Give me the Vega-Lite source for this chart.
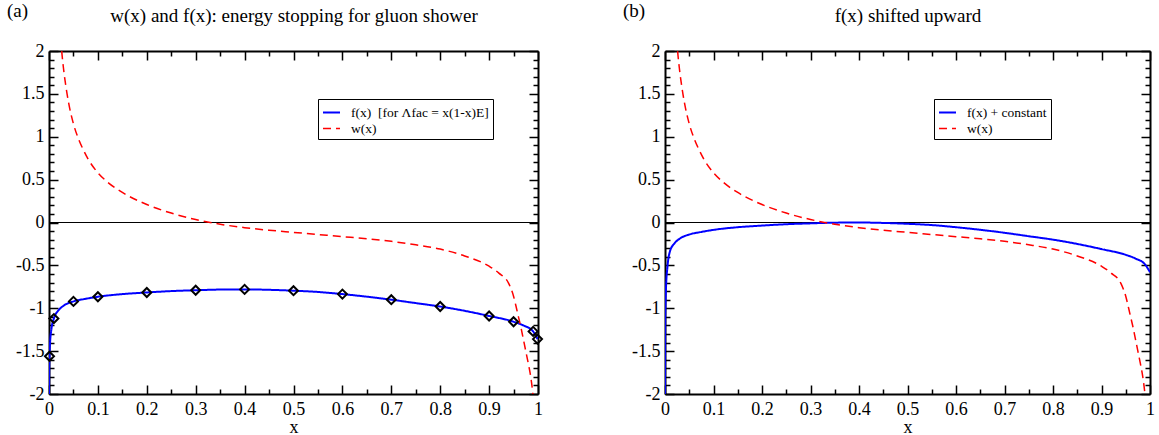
{
  "$schema": "https://vega.github.io/schema/vega-lite/v6.json",
  "autosize": {"type": "pad"},
  "padding": {"left": 7, "top": 2, "right": 8, "bottom": 0},
  "bounds": "flush",
  "spacing": 127,
  "background": "white",
  "datasets": {
    "a_lines": [
      {"s": "f", "x": 0.0001, "y": -2.0},
      {"s": "f", "x": 0.0004, "y": -1.75},
      {"s": "f", "x": 0.001, "y": -1.56},
      {"s": "f", "x": 0.002, "y": -1.42},
      {"s": "f", "x": 0.005, "y": -1.24},
      {"s": "f", "x": 0.01, "y": -1.12},
      {"s": "f", "x": 0.02, "y": -1.02},
      {"s": "f", "x": 0.03, "y": -0.97},
      {"s": "f", "x": 0.05, "y": -0.92},
      {"s": "f", "x": 0.075, "y": -0.89},
      {"s": "f", "x": 0.1, "y": -0.866},
      {"s": "f", "x": 0.15, "y": -0.835},
      {"s": "f", "x": 0.2, "y": -0.816},
      {"s": "f", "x": 0.25, "y": -0.8},
      {"s": "f", "x": 0.3, "y": -0.79},
      {"s": "f", "x": 0.35, "y": -0.782},
      {"s": "f", "x": 0.4, "y": -0.78},
      {"s": "f", "x": 0.45, "y": -0.785},
      {"s": "f", "x": 0.5, "y": -0.795},
      {"s": "f", "x": 0.55, "y": -0.81},
      {"s": "f", "x": 0.6, "y": -0.835},
      {"s": "f", "x": 0.65, "y": -0.865},
      {"s": "f", "x": 0.7, "y": -0.9},
      {"s": "f", "x": 0.75, "y": -0.94},
      {"s": "f", "x": 0.8, "y": -0.98},
      {"s": "f", "x": 0.85, "y": -1.03},
      {"s": "f", "x": 0.9, "y": -1.09},
      {"s": "f", "x": 0.95, "y": -1.157},
      {"s": "f", "x": 0.97, "y": -1.2},
      {"s": "f", "x": 0.99, "y": -1.27},
      {"s": "f", "x": 0.999, "y": -1.36},
      {"s": "w", "x": 0.024, "y": 2.15},
      {"s": "w", "x": 0.026, "y": 2.0},
      {"s": "w", "x": 0.03, "y": 1.78},
      {"s": "w", "x": 0.035, "y": 1.57},
      {"s": "w", "x": 0.04, "y": 1.4},
      {"s": "w", "x": 0.05, "y": 1.15},
      {"s": "w", "x": 0.06, "y": 0.98},
      {"s": "w", "x": 0.07, "y": 0.85},
      {"s": "w", "x": 0.08, "y": 0.74},
      {"s": "w", "x": 0.1, "y": 0.58},
      {"s": "w", "x": 0.12, "y": 0.47},
      {"s": "w", "x": 0.15, "y": 0.35},
      {"s": "w", "x": 0.2, "y": 0.21},
      {"s": "w", "x": 0.25, "y": 0.11},
      {"s": "w", "x": 0.3, "y": 0.035},
      {"s": "w", "x": 0.35, "y": -0.02},
      {"s": "w", "x": 0.4, "y": -0.06},
      {"s": "w", "x": 0.45, "y": -0.09},
      {"s": "w", "x": 0.5, "y": -0.115},
      {"s": "w", "x": 0.55, "y": -0.14},
      {"s": "w", "x": 0.6, "y": -0.165},
      {"s": "w", "x": 0.65, "y": -0.19},
      {"s": "w", "x": 0.7, "y": -0.22},
      {"s": "w", "x": 0.75, "y": -0.26},
      {"s": "w", "x": 0.8, "y": -0.31},
      {"s": "w", "x": 0.85, "y": -0.39},
      {"s": "w", "x": 0.9, "y": -0.51},
      {"s": "w", "x": 0.92, "y": -0.59},
      {"s": "w", "x": 0.94, "y": -0.71},
      {"s": "w", "x": 0.95, "y": -0.86},
      {"s": "w", "x": 0.956, "y": -1.0},
      {"s": "w", "x": 0.96, "y": -1.1},
      {"s": "w", "x": 0.965, "y": -1.22},
      {"s": "w", "x": 0.97, "y": -1.36},
      {"s": "w", "x": 0.975, "y": -1.5},
      {"s": "w", "x": 0.98, "y": -1.64},
      {"s": "w", "x": 0.984, "y": -1.76},
      {"s": "w", "x": 0.989, "y": -1.97},
      {"s": "w", "x": 0.992, "y": -2.15}
    ],
    "a_marks": [
      {"x": 0.001, "y": -1.56},
      {"x": 0.01, "y": -1.12},
      {"x": 0.05, "y": -0.92},
      {"x": 0.1, "y": -0.866},
      {"x": 0.2, "y": -0.816},
      {"x": 0.3, "y": -0.79},
      {"x": 0.4, "y": -0.78},
      {"x": 0.5, "y": -0.795},
      {"x": 0.6, "y": -0.835},
      {"x": 0.7, "y": -0.9},
      {"x": 0.8, "y": -0.98},
      {"x": 0.9, "y": -1.09},
      {"x": 0.95, "y": -1.157},
      {"x": 0.99, "y": -1.27},
      {"x": 0.999, "y": -1.36}
    ],
    "b_lines": [
      {"s": "f", "x": 0.00005, "y": -2.0},
      {"s": "f", "x": 0.0002, "y": -1.4},
      {"s": "f", "x": 0.0005, "y": -1.12},
      {"s": "f", "x": 0.001, "y": -0.97},
      {"s": "f", "x": 0.002, "y": -0.77},
      {"s": "f", "x": 0.005, "y": -0.52},
      {"s": "f", "x": 0.01, "y": -0.34},
      {"s": "f", "x": 0.02, "y": -0.24},
      {"s": "f", "x": 0.03, "y": -0.19},
      {"s": "f", "x": 0.05, "y": -0.14},
      {"s": "f", "x": 0.075, "y": -0.11},
      {"s": "f", "x": 0.1, "y": -0.086},
      {"s": "f", "x": 0.15, "y": -0.055},
      {"s": "f", "x": 0.2, "y": -0.036},
      {"s": "f", "x": 0.25, "y": -0.02},
      {"s": "f", "x": 0.3, "y": -0.01},
      {"s": "f", "x": 0.35, "y": -0.002},
      {"s": "f", "x": 0.4, "y": 0.0},
      {"s": "f", "x": 0.45, "y": -0.005},
      {"s": "f", "x": 0.5, "y": -0.015},
      {"s": "f", "x": 0.55, "y": -0.03},
      {"s": "f", "x": 0.6, "y": -0.055},
      {"s": "f", "x": 0.65, "y": -0.085},
      {"s": "f", "x": 0.7, "y": -0.12},
      {"s": "f", "x": 0.75, "y": -0.16},
      {"s": "f", "x": 0.8, "y": -0.2},
      {"s": "f", "x": 0.85, "y": -0.25},
      {"s": "f", "x": 0.9, "y": -0.31},
      {"s": "f", "x": 0.95, "y": -0.377},
      {"s": "f", "x": 0.97, "y": -0.42},
      {"s": "f", "x": 0.99, "y": -0.49},
      {"s": "f", "x": 1.0, "y": -0.58},
      {"s": "w", "x": 0.024, "y": 2.15},
      {"s": "w", "x": 0.026, "y": 2.0},
      {"s": "w", "x": 0.03, "y": 1.78},
      {"s": "w", "x": 0.035, "y": 1.57},
      {"s": "w", "x": 0.04, "y": 1.4},
      {"s": "w", "x": 0.05, "y": 1.15},
      {"s": "w", "x": 0.06, "y": 0.98},
      {"s": "w", "x": 0.07, "y": 0.85},
      {"s": "w", "x": 0.08, "y": 0.74},
      {"s": "w", "x": 0.1, "y": 0.58},
      {"s": "w", "x": 0.12, "y": 0.47},
      {"s": "w", "x": 0.15, "y": 0.35},
      {"s": "w", "x": 0.2, "y": 0.21},
      {"s": "w", "x": 0.25, "y": 0.11},
      {"s": "w", "x": 0.3, "y": 0.035},
      {"s": "w", "x": 0.35, "y": -0.02},
      {"s": "w", "x": 0.4, "y": -0.06},
      {"s": "w", "x": 0.45, "y": -0.09},
      {"s": "w", "x": 0.5, "y": -0.115},
      {"s": "w", "x": 0.55, "y": -0.14},
      {"s": "w", "x": 0.6, "y": -0.165},
      {"s": "w", "x": 0.65, "y": -0.19},
      {"s": "w", "x": 0.7, "y": -0.22},
      {"s": "w", "x": 0.75, "y": -0.26},
      {"s": "w", "x": 0.8, "y": -0.31},
      {"s": "w", "x": 0.85, "y": -0.39},
      {"s": "w", "x": 0.9, "y": -0.51},
      {"s": "w", "x": 0.92, "y": -0.59},
      {"s": "w", "x": 0.94, "y": -0.71},
      {"s": "w", "x": 0.95, "y": -0.86},
      {"s": "w", "x": 0.956, "y": -1.0},
      {"s": "w", "x": 0.96, "y": -1.1},
      {"s": "w", "x": 0.965, "y": -1.22},
      {"s": "w", "x": 0.97, "y": -1.36},
      {"s": "w", "x": 0.975, "y": -1.5},
      {"s": "w", "x": 0.98, "y": -1.64},
      {"s": "w", "x": 0.984, "y": -1.76},
      {"s": "w", "x": 0.989, "y": -1.97},
      {"s": "w", "x": 0.992, "y": -2.15}
    ]
  },
  "hconcat": [
    {
      "width": 489,
      "height": 343,
      "title": {"text": "(a)", "anchor": "start", "frame": "group", "dx": -42, "offset": -30, "baseline": "alphabetic", "font": "Liberation Serif", "fontSize": 19, "fontWeight": "normal", "color": "black"},
      "layer": [
        {
          "data": {"values": [{}]},
          "mark": {"type": "rule", "color": "black", "strokeWidth": 1},
          "encoding": {
            "x": {"datum": 0, "type": "quantitative", "scale": {"domain": [0, 1], "nice": false, "zero": false},
              "axis": {"orient": "top", "labels": false, "title": "w(x) and f(x): energy stopping for gluon shower", "titlePadding": 29, "titleBaseline": "alphabetic", "titleFontSize": 19,
                "values": [0,0.05,0.1,0.15,0.2,0.25,0.3,0.35,0.4,0.45,0.5,0.55,0.6,0.65,0.7,0.75,0.8,0.85,0.9,0.95,1],
                "tickSize": {"condition": {"test": "abs(datum.value*10-round(datum.value*10))<0.001", "value": -9}, "value": -5}}},
            "x2": {"datum": 1},
            "y": {"datum": 0, "type": "quantitative", "scale": {"domain": [-2, 2], "nice": false, "zero": false},
              "axis": {"orient": "right", "labels": false, "title": null,
                "values": [-2,-1.9,-1.8,-1.7,-1.6,-1.5,-1.4,-1.3,-1.2,-1.1,-1,-0.9,-0.8,-0.7,-0.6,-0.5,-0.4,-0.3,-0.2,-0.1,0,0.1,0.2,0.3,0.4,0.5,0.6,0.7,0.8,0.9,1,1.1,1.2,1.3,1.4,1.5,1.6,1.7,1.8,1.9,2],
                "tickSize": {"condition": {"test": "abs(datum.value*2-round(datum.value*2))<0.001", "value": -9}, "value": -5}}}
          }
        },
        {
          "data": {"name": "a_lines"},
          "mark": {"type": "line", "clip": true, "interpolate": "monotone"},
          "encoding": {
            "x": {"field": "x", "type": "quantitative", "scale": {"domain": [0, 1], "nice": false, "zero": false},
              "axis": {"orient": "bottom", "title": "x", "titlePadding": 10, "titleBaseline": "alphabetic", "labelPadding": 15,
                "values": [0,0.05,0.1,0.15,0.2,0.25,0.3,0.35,0.4,0.45,0.5,0.55,0.6,0.65,0.7,0.75,0.8,0.85,0.9,0.95,1],
                "labelExpr": "abs(datum.value*10-round(datum.value*10))<0.001 ? toString(round(datum.value*10)/10) : ''",
                "tickSize": {"condition": {"test": "abs(datum.value*10-round(datum.value*10))<0.001", "value": -9}, "value": -5}}},
            "y": {"field": "y", "type": "quantitative", "scale": {"domain": [-2, 2], "nice": false, "zero": false},
              "axis": {"orient": "left", "title": null, "labelPadding": 14,
                "values": [-2,-1.9,-1.8,-1.7,-1.6,-1.5,-1.4,-1.3,-1.2,-1.1,-1,-0.9,-0.8,-0.7,-0.6,-0.5,-0.4,-0.3,-0.2,-0.1,0,0.1,0.2,0.3,0.4,0.5,0.6,0.7,0.8,0.9,1,1.1,1.2,1.3,1.4,1.5,1.6,1.7,1.8,1.9,2],
                "labelExpr": "abs(datum.value*2-round(datum.value*2))<0.001 ? toString(round(datum.value*2)/2) : ''",
                "tickSize": {"condition": {"test": "abs(datum.value*2-round(datum.value*2))<0.001", "value": -9}, "value": -5}}},
            "color": {"field": "s", "type": "nominal", "scale": {"domain": ["f", "w"], "range": ["#0000ff", "#ff0000"]},
              "legend": {"orient": "none", "legendX": 269, "legendY": 48, "title": null, "labelExpr": "datum.value == 'f' ? 'f(x)\u00a0 [for Λfac = x(1-x)E]' : 'w(x)'"}},
            "strokeDash": {"field": "s", "type": "nominal", "scale": {"domain": ["f", "w"], "range": [[1, 0], [8, 5]]},
              "legend": {"orient": "none", "legendX": 269, "legendY": 48, "title": null, "labelExpr": "datum.value == 'f' ? 'f(x)\u00a0 [for Λfac = x(1-x)E]' : 'w(x)'"}},
            "strokeWidth": {"field": "s", "type": "nominal", "scale": {"domain": ["f", "w"], "range": [2, 1.5]}, "legend": null}
          }
        },
        {
          "data": {"name": "a_marks"},
          "mark": {"type": "point", "shape": "diamond", "filled": false, "color": "black", "opacity": 1, "size": 81, "strokeWidth": 2},
          "encoding": {
            "x": {"field": "x", "type": "quantitative", "axis": null},
            "y": {"field": "y", "type": "quantitative", "axis": null}
          }
        }
      ],
      "resolve": {"axis": {"x": "independent", "y": "independent"}}
    },
    {
      "width": 485,
      "height": 343,
      "title": {"text": "(b)", "anchor": "start", "frame": "group", "dx": -42, "offset": -30, "baseline": "alphabetic", "font": "Liberation Serif", "fontSize": 19, "fontWeight": "normal", "color": "black"},
      "layer": [
        {
          "data": {"values": [{}]},
          "mark": {"type": "rule", "color": "black", "strokeWidth": 1},
          "encoding": {
            "x": {"datum": 0, "type": "quantitative", "scale": {"domain": [0, 1], "nice": false, "zero": false},
              "axis": {"orient": "top", "labels": false, "title": "f(x) shifted upward", "titlePadding": 29, "titleBaseline": "alphabetic", "titleFontSize": 19,
                "values": [0,0.05,0.1,0.15,0.2,0.25,0.3,0.35,0.4,0.45,0.5,0.55,0.6,0.65,0.7,0.75,0.8,0.85,0.9,0.95,1],
                "tickSize": {"condition": {"test": "abs(datum.value*10-round(datum.value*10))<0.001", "value": -9}, "value": -5}}},
            "x2": {"datum": 1},
            "y": {"datum": 0, "type": "quantitative", "scale": {"domain": [-2, 2], "nice": false, "zero": false},
              "axis": {"orient": "right", "labels": false, "title": null,
                "values": [-2,-1.9,-1.8,-1.7,-1.6,-1.5,-1.4,-1.3,-1.2,-1.1,-1,-0.9,-0.8,-0.7,-0.6,-0.5,-0.4,-0.3,-0.2,-0.1,0,0.1,0.2,0.3,0.4,0.5,0.6,0.7,0.8,0.9,1,1.1,1.2,1.3,1.4,1.5,1.6,1.7,1.8,1.9,2],
                "tickSize": {"condition": {"test": "abs(datum.value*2-round(datum.value*2))<0.001", "value": -9}, "value": -5}}}
          }
        },
        {
          "data": {"name": "b_lines"},
          "mark": {"type": "line", "clip": true, "interpolate": "monotone"},
          "encoding": {
            "x": {"field": "x", "type": "quantitative", "scale": {"domain": [0, 1], "nice": false, "zero": false},
              "axis": {"orient": "bottom", "title": "x", "titlePadding": 10, "titleBaseline": "alphabetic", "labelPadding": 15,
                "values": [0,0.05,0.1,0.15,0.2,0.25,0.3,0.35,0.4,0.45,0.5,0.55,0.6,0.65,0.7,0.75,0.8,0.85,0.9,0.95,1],
                "labelExpr": "abs(datum.value*10-round(datum.value*10))<0.001 ? toString(round(datum.value*10)/10) : ''",
                "tickSize": {"condition": {"test": "abs(datum.value*10-round(datum.value*10))<0.001", "value": -9}, "value": -5}}},
            "y": {"field": "y", "type": "quantitative", "scale": {"domain": [-2, 2], "nice": false, "zero": false},
              "axis": {"orient": "left", "title": null, "labelPadding": 14,
                "values": [-2,-1.9,-1.8,-1.7,-1.6,-1.5,-1.4,-1.3,-1.2,-1.1,-1,-0.9,-0.8,-0.7,-0.6,-0.5,-0.4,-0.3,-0.2,-0.1,0,0.1,0.2,0.3,0.4,0.5,0.6,0.7,0.8,0.9,1,1.1,1.2,1.3,1.4,1.5,1.6,1.7,1.8,1.9,2],
                "labelExpr": "abs(datum.value*2-round(datum.value*2))<0.001 ? toString(round(datum.value*2)/2) : ''",
                "tickSize": {"condition": {"test": "abs(datum.value*2-round(datum.value*2))<0.001", "value": -9}, "value": -5}}},
            "color": {"field": "s", "type": "nominal", "scale": {"domain": ["f", "w"], "range": ["#0000ff", "#ff0000"]},
              "legend": {"orient": "none", "legendX": 269, "legendY": 48, "title": null, "labelExpr": "datum.value == 'f' ? 'f(x) + constant' : 'w(x)'"}},
            "strokeDash": {"field": "s", "type": "nominal", "scale": {"domain": ["f", "w"], "range": [[1, 0], [8, 5]]},
              "legend": {"orient": "none", "legendX": 269, "legendY": 48, "title": null, "labelExpr": "datum.value == 'f' ? 'f(x) + constant' : 'w(x)'"}},
            "strokeWidth": {"field": "s", "type": "nominal", "scale": {"domain": ["f", "w"], "range": [2, 1.5]}, "legend": null}
          }
        }
      ],
      "resolve": {"axis": {"x": "independent", "y": "independent"}}
    }
  ],
  "resolve": {
    "scale": {"color": "independent", "strokeDash": "independent", "strokeWidth": "independent"},
    "legend": {"color": "independent", "strokeDash": "independent"}
  },
  "config": {
    "view": {"stroke": null},
    "font": "Liberation Serif",
    "axis": {
      "labelFont": "Liberation Serif", "labelFontSize": 18, "labelColor": "black",
      "titleFont": "Liberation Serif", "titleFontSize": 18, "titleFontWeight": "normal", "titleColor": "black",
      "domainColor": "black", "domainWidth": 2, "tickColor": "black", "tickWidth": 1.5,
      "grid": false, "labelFlush": false, "labelOverlap": false, "labelBound": false
    },
    "legend": {
      "strokeColor": "black", "fillColor": "white", "padding": 4, "symbolType": "stroke",
      "symbolSize": 289, "symbolStrokeWidth": 2, "labelFont": "Liberation Serif", "labelFontSize": 13.5,
      "labelColor": "black", "rowPadding": 0, "labelOffset": 10, "cornerRadius": 0
    }
  }
}
